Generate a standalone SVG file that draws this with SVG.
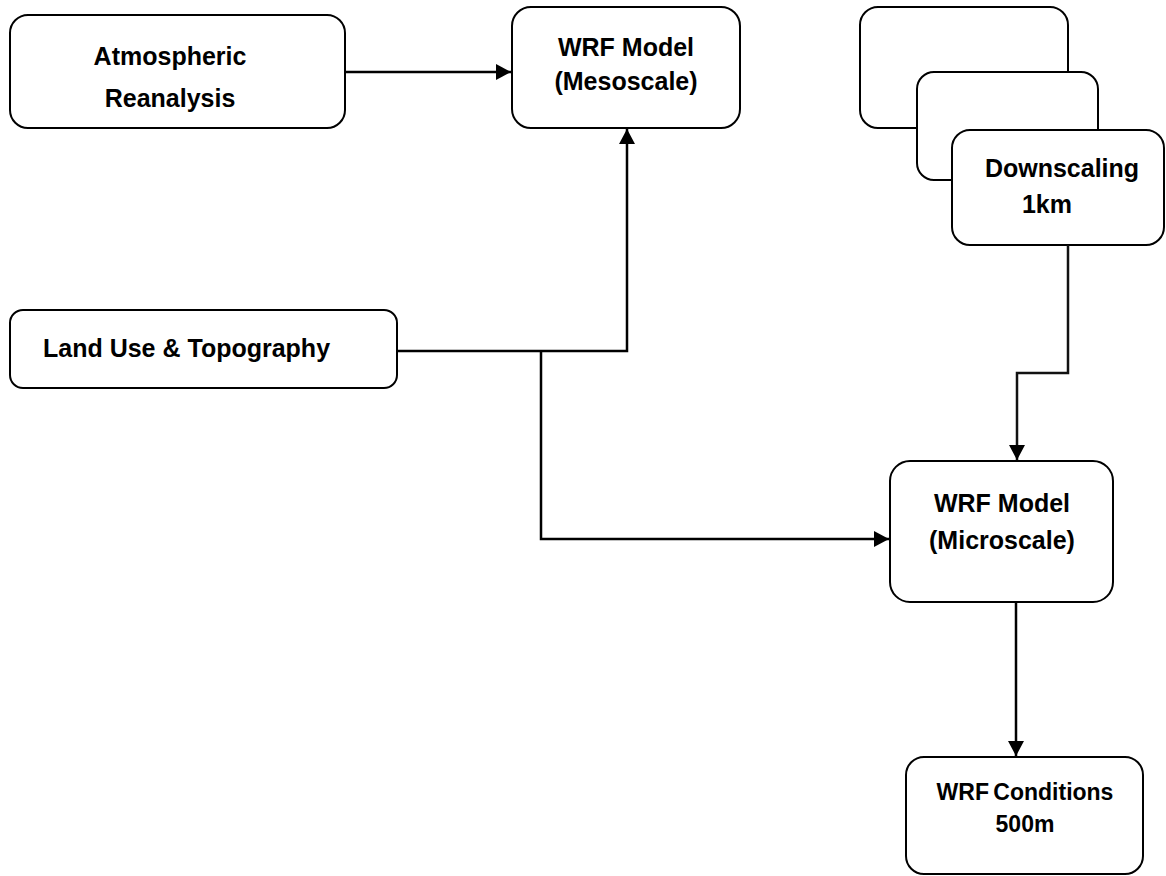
<svg xmlns="http://www.w3.org/2000/svg" width="1166" height="876" viewBox="0 0 1166 876">
<style>
.box{fill:#fff;stroke:#000;stroke-width:2}
.t{font-family:"Liberation Sans",Arial,sans-serif;font-weight:bold;font-size:25px;fill:#000;text-anchor:middle}
.c{fill:none;stroke:#000;stroke-width:2.5}
</style>
<defs>
<marker id="ah" markerUnits="userSpaceOnUse" markerWidth="18" markerHeight="18" refX="15" refY="8" orient="auto">
<path d="M0,0 L15,8 L0,16 z" fill="#000"/>
</marker>
</defs>
<g id="atmospheric">
<rect class="box" x="10" y="15" width="335" height="113" rx="18"/>
<text class="t" x="170" y="65">Atmospheric</text>
<text class="t" x="170" y="107">Reanalysis</text>
</g>
<g id="wrf-meso">
<rect class="box" x="512" y="7" width="228" height="121" rx="19"/>
<text class="t" x="626" y="56">WRF Model</text>
<text class="t" x="626" y="90">(Mesoscale)</text>
</g>
<g id="stack-1">
<rect class="box" x="860" y="7" width="208" height="121" rx="18"/>
</g>
<g id="stack-2">
<rect class="box" x="917" y="72" width="181" height="108" rx="17"/>
</g>
<g id="downscaling">
<rect class="box" x="952" y="130" width="212" height="115" rx="18"/>
<text class="t" x="1062" y="177">Downscaling</text>
<text class="t" x="1047" y="213">1km</text>
</g>
<g id="landuse">
<rect class="box" x="10" y="310" width="387" height="78" rx="13"/>
<text class="t" x="43" y="357" style="text-anchor:start">Land Use &amp; Topography</text>
</g>
<g id="wrf-micro">
<rect class="box" x="890" y="461" width="223" height="141" rx="20"/>
<text class="t" x="1002" y="512">WRF Model</text>
<text class="t" x="1002" y="549">(Microscale)</text>
</g>
<g id="wrf-conditions">
<rect class="box" x="906" y="757" width="237" height="117" rx="18"/>
<text class="t" x="1025" y="800" style="font-size:23px;word-spacing:-2px">WRF Conditions</text>
<text class="t" x="1025" y="832" style="font-size:23px">500m</text>
</g>
<g id="connectors">
<path class="c" d="M345,72 H511" marker-end="url(#ah)"/>
<path class="c" d="M397,351 H627 V129" marker-end="url(#ah)"/>
<path class="c" d="M541,351 V539 H889" marker-end="url(#ah)"/>
<path class="c" d="M1068,245 V373 H1017 V460" marker-end="url(#ah)" style="stroke:#111"/>
<path class="c" d="M1016,602 V756" marker-end="url(#ah)"/>
</g>
</svg>
